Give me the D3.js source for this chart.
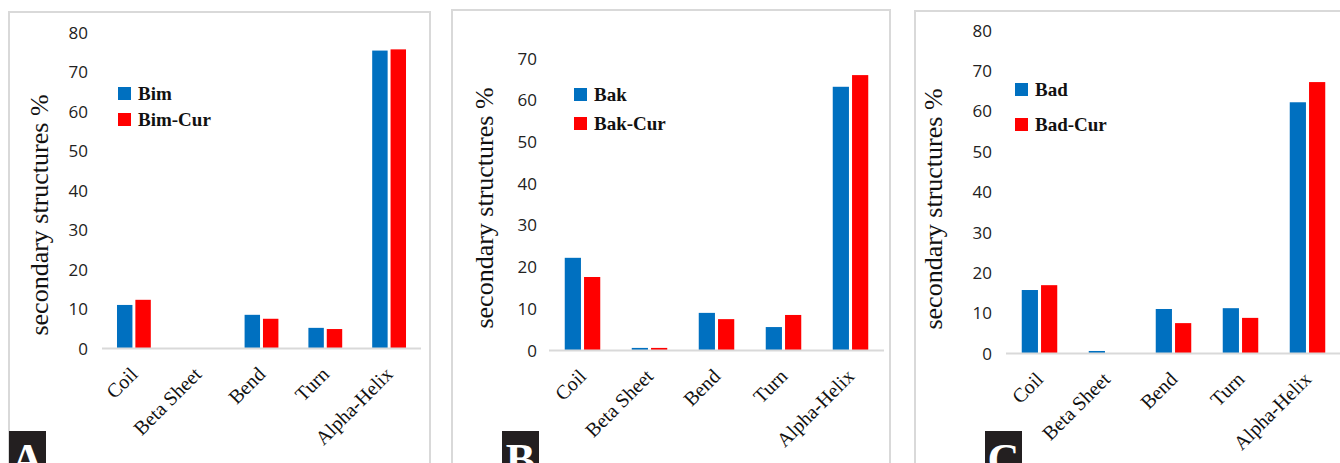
<!DOCTYPE html>
<html>
<head>
<meta charset="utf-8">
<script src="https://cdn.jsdelivr.net/npm/d3@7"></script>
<style>
  html, body { margin: 0; padding: 0; background: #fff; }
  svg { display: block; }
</style>
</head>
<body>
<svg id="chart" width="1340" height="463"></svg>
<script>
// Secondary structure content (%) per protein, alone and with curcumin
const categories = ["Coil", "Beta Sheet", "Bend", "Turn", "Alpha-Helix"];

const bimValues    = [10.9, 0,   8.4,  5.1, 75.3];
const bimCurValues = [12.2, 0,   7.4,  4.8, 75.6];

const bakValues    = [22.1, 0.5, 8.9,  5.5, 63.1];
const bakCurValues = [17.5, 0.5, 7.4,  8.4, 65.9];

const badValues    = [15.6, 0.5, 10.9, 11.1, 62.1];
const badCurValues = [16.8, 0,   7.4,  8.7, 67.1];

const seriesA = ["Bim", "Bim-Cur"];
const seriesB = ["Bak", "Bak-Cur"];
const seriesC = ["Bad", "Bad-Cur"];

const ticksA = [0, 10, 20, 30, 40, 50, 60, 70, 80];
const ticksB = [0, 10, 20, 30, 40, 50, 60, 70];
const ticksC = [0, 10, 20, 30, 40, 50, 60, 70, 80];

const panelLetters = ["A", "B", "C"];

const colors = ["#0070c0", "#ff0000"];

// Placement of the three panels on the page
const panels = [
  { letter: panelLetters[0], names: seriesA, values: [bimValues, bimCurValues], ticks: ticksA, yMax: 80,
    frame: { x0: 9, x1: 430, y0: 12 }, plot: { x0: 102, x1: 421, yBase: 348, yTop: 32 },
    tickRight: 88, titleX: 48, titleY: 215, legend: { x: 118, y: 87, dy: 26 }, box: 9 },
  { letter: panelLetters[1], names: seriesB, values: [bakValues, bakCurValues], ticks: ticksB, yMax: 70,
    frame: { x0: 452, x1: 890, y0: 10 }, plot: { x0: 549, x1: 884, yBase: 350, yTop: 58 },
    tickRight: 537, titleX: 493, titleY: 208, legend: { x: 574, y: 88, dy: 29 }, box: 502 },
  { letter: panelLetters[2], names: seriesC, values: [badValues, badCurValues], ticks: ticksC, yMax: 80,
    frame: { x0: 915, x1: 1360, y0: 11 }, plot: { x0: 1006, x1: 1341, yBase: 353, yTop: 30 },
    tickRight: 992, titleX: 942, titleY: 209, legend: { x: 1015, y: 83, dy: 35 }, box: 985 }
];

const svg = d3.select("#chart");
const serif = "'Liberation Serif', 'Times New Roman', serif";
const sans = "'Open Sans', 'Liberation Sans', sans-serif";

panels.forEach(p => {
  const g = svg.append("g");

  // light grey panel border (runs off the bottom edge)
  g.append("path")
    .attr("d", `M${p.frame.x0},480 V${p.frame.y0} H${p.frame.x1} V480`)
    .attr("fill", "none")
    .attr("stroke", "#d9d9d9")
    .attr("stroke-width", 2);

  const y = d3.scaleLinear().domain([0, p.yMax]).range([p.plot.yBase, p.plot.yTop]);
  const x0 = d3.scaleBand().domain(categories).range([p.plot.x0, p.plot.x1]).paddingInner(0.47).paddingOuter(0.235);
  const x1 = d3.scaleBand().domain(p.names).range([0, x0.bandwidth()]).paddingInner(0.16);

  // y tick labels (no axis line, no tick marks)
  const yAxis = d3.axisLeft(y).tickValues(p.ticks).tickSize(0).tickPadding(0);
  const ya = g.append("g").attr("transform", `translate(${p.tickRight},0)`).call(yAxis);
  ya.select(".domain").remove();
  ya.selectAll("text")
    .attr("font-family", sans)
    .attr("font-size", 17)
    .attr("fill", "#222")
    .attr("dy", "0.36em");

  // bars
  const rows = categories.map((c, i) => ({ cat: c, vals: p.names.map((n, s) => ({ name: n, s, v: p.values[s][i] })) }));
  g.append("g").selectAll("g").data(rows).join("g")
    .attr("transform", d => `translate(${x0(d.cat)},0)`)
    .selectAll("rect").data(d => d.vals).join("rect")
      .attr("x", d => x1(d.name))
      .attr("width", x1.bandwidth())
      .attr("y", d => y(d.v))
      .attr("height", d => y(0) - y(d.v))
      .attr("fill", d => colors[d.s]);

  // category axis baseline
  const xAxis = d3.axisBottom(x0).tickSize(0).tickPadding(0);
  const xa = g.append("g").attr("transform", `translate(0,${p.plot.yBase + 0.5})`).call(xAxis);
  xa.select(".domain")
    .attr("d", `M${p.plot.x0},0H${Math.min(p.plot.x1, 1340)}`)
    .attr("stroke", "#d9d9d9")
    .attr("stroke-width", 2);
  xa.selectAll(".tick text")
    .attr("font-family", serif)
    .attr("font-size", 20)
    .attr("fill", "#111")
    .attr("text-anchor", "end")
    .attr("dy", 0)
    .attr("transform", "translate(5,27) rotate(-45)");

  // y axis title
  g.append("text")
    .attr("transform", `translate(${p.titleX},${p.titleY}) rotate(-90)`)
    .attr("text-anchor", "middle")
    .attr("font-family", serif)
    .attr("font-size", 26)
    .attr("fill", "#111")
    .text("secondary structures %");

  // legend
  const lg = g.append("g");
  p.names.forEach((n, s) => {
    lg.append("rect")
      .attr("x", p.legend.x).attr("y", p.legend.y + s * p.legend.dy)
      .attr("width", 13).attr("height", 13)
      .attr("fill", colors[s]);
    lg.append("text")
      .attr("x", p.legend.x + 20).attr("y", p.legend.y + s * p.legend.dy + 13)
      .attr("font-family", serif)
      .attr("font-weight", "bold")
      .attr("font-size", 19)
      .attr("fill", "#111")
      .text(n);
  });

  // panel letter tag
  g.append("rect")
    .attr("x", p.box).attr("y", 431)
    .attr("width", 37).attr("height", 40)
    .attr("fill", "#231f20");
  g.append("text")
    .attr("x", p.box + 18.5).attr("y", 474)
    .attr("text-anchor", "middle")
    .attr("font-family", serif)
    .attr("font-weight", "bold")
    .attr("font-size", 44)
    .attr("fill", "#fff")
    .text(p.letter);
});
</script>
</body>
</html>
